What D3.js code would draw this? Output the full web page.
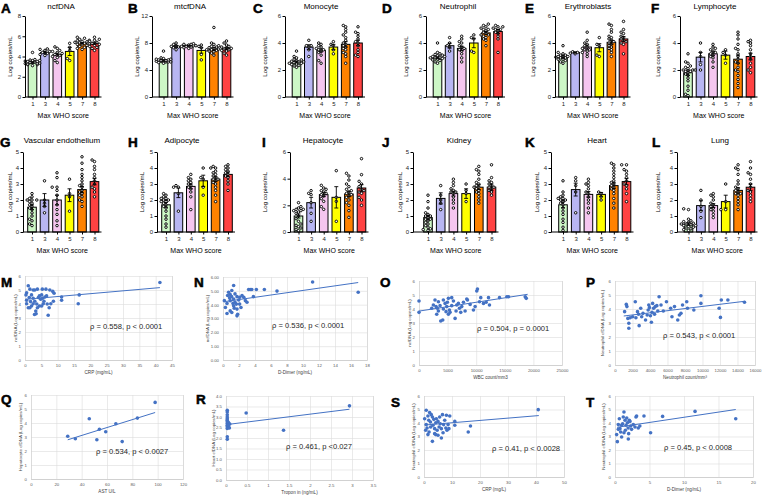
<!DOCTYPE html>
<html lang="en">
<head>
<meta charset="UTF-8">
<title>cfDNA by max WHO score</title>
<script src="https://d3js.org/d3.v7.min.js"></script>
<style>
  body { margin: 0; background: #fff; }
  svg text { font-family: "Liberation Sans", Arial, sans-serif; }
</style>
</head>
<body>
<svg width="762" height="497"></svg>
<script>
// ---- bar panels: max WHO score groups ----
const groups = ['1', '3', '4', '5', '7', '8'];
const groupColors = ['#cdf7c6', '#b8b6f2', '#f5c6ef', '#ffff00', '#ff8200', '#ff4242'];

const ncfMean = [3.4, 4.4, 4.2, 4.5, 5.3, 5.3];
const ncfSem = [0.07, 0.12, 0.13, 0.4, 0.07, 0.1];
const ncfDots = [
  [3.1,3.2,3.25,3.3,3.3,3.35,3.4,3.4,3.45,3.5,3.5,3.55,3.6,3.6,3.65,3.7,3.2,4.4],
  [4.1,4.3,4.4,4.5,4.6,4.7,4.75,4.2],
  [3.4,3.6,3.9,4.0,4.1,4.2,4.3,4.4,4.5,4.6,4.8,4.95],
  [3.6,3.8,4.6,5.3,4.9],
  [4.7,4.8,4.9,5.0,5.1,5.15,5.2,5.25,5.3,5.35,5.4,5.45,5.5,5.55,5.6,5.7,5.8,5.9],
  [4.6,4.8,4.9,5.0,5.1,5.2,5.3,5.4,5.5,5.6,5.7,5.9]
];

const mtMean = [5.4, 7.5, 7.6, 6.9, 7.1, 7.2];
const mtSem = [0.1, 0.15, 0.07, 0.4, 0.2, 0.15];
const mtDots = [
  [5.0,5.1,5.2,5.2,5.3,5.3,5.4,5.4,5.5,5.5,5.6,5.6,5.7,5.8,5.2,5.4,6.8],
  [7.0,7.3,7.5,7.6,7.8,8.0,7.4],
  [7.2,7.3,7.4,7.5,7.6,7.6,7.7,7.7,7.8,7.9,7.5,7.8],
  [5.5,6.3,7.3,7.5,7.7],
  [6.2,6.5,6.7,6.8,6.9,7.0,7.0,7.1,7.2,7.3,7.4,7.5,7.6,7.8,8.0,10.3],
  [6.2,6.5,6.8,6.9,7.0,7.1,7.2,7.3,7.4,7.5,7.7,8.0,8.3]
];

const monoMean = [2.6, 3.7, 3.45, 3.7, 3.9, 4.0];
const monoSem = [0.07, 0.17, 0.12, 0.2, 0.2, 0.2];
const monoDots = [
  [2.2,2.3,2.35,2.4,2.45,2.5,2.5,2.55,2.6,2.6,2.65,2.7,2.75,2.8,2.9,3.0,3.4],
  [3.0,3.5,3.7,3.8,3.8,4.2],
  [2.5,2.7,3.1,3.3,3.4,3.5,3.6,3.7,3.8,3.9,4.0,3.5],
  [3.2,3.5,3.9,4.1,3.8],
  [2.5,3.0,3.3,3.5,3.6,3.7,3.8,3.9,4.0,4.2,4.4,4.6,4.8,5.0,5.2,5.3,3.2],
  [3.0,3.1,3.3,3.5,3.8,4.0,4.1,4.3,4.5,4.7,4.8,5.2]
];

const neutMean = [2.9, 3.8, 3.6, 4.0, 4.75, 4.85];
const neutSem = [0.07, 0.18, 0.16, 0.35, 0.1, 0.15];
const neutDots = [
  [2.5,2.6,2.7,2.75,2.8,2.85,2.9,2.9,2.95,3.0,3.0,3.05,3.1,3.15,3.2,3.3,4.0],
  [3.4,3.7,3.8,4.0,4.4],
  [2.6,2.9,3.2,3.4,3.5,3.6,3.7,3.8,4.0,4.1,4.3,4.5],
  [3.3,3.4,4.3,4.6,4.4],
  [3.8,4.2,4.4,4.5,4.6,4.6,4.7,4.8,4.9,5.0,5.0,5.1,5.2,5.3,5.4,4.3],
  [3.3,4.3,4.5,4.7,4.8,4.9,5.0,5.0,5.1,5.2,5.3,5.2]
];

const eryMean = [2.95, 3.3, 3.7, 3.65, 4.05, 4.3];
const erySem = [0.07, 0.05, 0.15, 0.3, 0.15, 0.18];
const eryDots = [
  [2.5,2.6,2.7,2.8,2.8,2.9,2.9,3.0,3.0,3.0,3.1,3.1,3.2,3.3,3.8,2.95],
  [3.2,3.3,3.35,3.3,3.25],
  [3.0,3.2,3.4,3.5,3.6,3.7,3.8,3.9,4.0,4.2,4.8,3.5],
  [3.0,3.1,3.9,4.4,3.8],
  [3.0,3.3,3.5,3.7,3.8,3.9,4.0,4.1,4.2,4.3,4.4,4.5,4.8,5.0,5.3,5.4,3.6],
  [3.2,3.9,4.0,4.1,4.2,4.3,4.4,4.5,4.7,4.8,5.0,5.6]
];

const lymMean = [1.8, 2.95, 3.2, 3.1, 2.8, 3.0];
const lymSem = [0.2, 0.35, 0.15, 0.3, 0.3, 0.25];
const lymDots = [
  [0.1,0.2,0.5,0.8,1.2,1.4,1.6,1.7,1.8,1.9,2.0,2.0,2.1,2.2,2.3,2.5,2.6,3.2,2.0,1.9],
  [2.0,2.4,3.0,3.3,4.0],
  [2.2,2.6,2.9,3.0,3.1,3.2,3.3,3.4,3.5,3.6,3.7,3.9],
  [2.5,3.1,3.5,3.3],
  [0.7,1.0,1.3,1.6,1.9,2.0,2.2,2.5,2.8,3.0,3.2,3.5,3.6,3.9,4.3,4.6,4.8,2.6],
  [1.8,2.0,2.2,2.5,2.8,3.0,3.2,3.5,3.8,4.0,4.1,4.2]
];

const vascMean = [1.55, 2.0, 2.0, 2.3, 2.65, 3.15];
const vascSem = [0.15, 0.4, 0.3, 0.4, 0.2, 0.2];
const vascDots = [
  [0.4,0.5,0.7,0.8,1.0,1.2,1.4,1.5,1.6,1.7,1.8,1.9,2.0,2.0,2.1,2.2,2.4,2.0],
  [1.2,1.6,2.0,3.2,1.8],
  [0.4,0.7,1.1,1.4,1.7,2.0,2.3,2.6,2.8,2.8,3.4,3.7],
  [1.3,2.2,2.4,3.3],
  [1.6,1.9,2.0,2.2,2.3,2.4,2.5,2.6,2.8,2.9,3.0,3.2,3.4,3.6,3.9,4.3,4.7],
  [2.2,2.5,2.7,2.8,3.0,3.2,3.4,3.6,3.9,4.1,4.4,4.5]
];

const adiMean = [1.7, 2.45, 2.85, 3.2, 3.3, 3.6];
const adiSem = [0.15, 0.3, 0.15, 0.35, 0.15, 0.15];
const adiDots = [
  [0.3,0.5,0.8,1.0,1.3,1.5,1.6,1.7,1.8,1.9,2.0,2.0,2.1,2.1,2.2,2.3,2.4,1.9],
  [1.3,2.4,2.8,2.9,2.8],
  [1.4,2.2,2.5,2.7,2.8,2.9,3.0,3.1,3.2,3.4,3.6,3.3],
  [2.3,2.8,3.4,4.0,3.3],
  [1.9,2.3,2.6,2.8,3.0,3.1,3.2,3.3,3.4,3.5,3.6,3.7,3.8,4.0,4.0,4.1,3.3],
  [2.6,3.0,3.2,3.4,3.5,3.6,3.7,3.8,3.9,4.0,4.1,4.2]
];

const hepMean = [1.2, 2.2, 2.8, 2.6, 2.85, 3.3];
const hepSem = [0.15, 0.4, 0.15, 0.8, 0.2, 0.25];
const hepDots = [
  [0.1,0.2,0.3,0.4,0.5,0.6,0.8,1.0,1.2,1.4,1.5,1.6,1.7,1.7,1.8,1.9,2.2,1.6],
  [0.8,1.4,2.2,2.8,3.1,2.9],
  [1.7,1.9,2.3,2.5,2.7,2.8,2.9,3.0,3.1,3.2,3.3,3.5],
  [0.8,2.3,2.6,4.6],
  [1.1,1.6,2.0,2.2,2.4,2.6,2.7,2.8,2.9,3.0,3.1,3.2,3.4,3.6,3.9,4.2,4.4],
  [2.0,2.4,2.6,2.9,3.0,3.1,3.2,3.4,3.6,3.8,4.3,5.5]
];

const kidMean = [0.9, 2.1, 2.4, 2.4, 2.8, 2.8];
const kidSem = [0.15, 0.35, 0.15, 0.3, 0.15, 0.2];
const kidDots = [
  [0.1,0.15,0.2,0.3,0.4,0.5,0.6,0.7,0.8,0.9,1.0,1.0,1.1,1.2,1.5,1.9,2.3,0.8],
  [1.4,1.8,2.3,2.9,2.0],
  [1.5,1.8,2.0,2.2,2.4,2.5,2.6,2.7,2.9,3.1,3.3,2.5],
  [1.9,2.4,2.6,3.0],
  [1.8,2.0,2.2,2.4,2.5,2.6,2.7,2.8,2.9,3.0,3.1,3.3,3.6,3.8,3.9,4.1,2.8],
  [2.3,2.5,2.6,2.7,2.8,2.8,2.9,3.0,3.1,3.2,3.4,4.2]
];

const heartMean = [1.7, 2.65, 2.35, 2.35, 2.9, 3.15];
const heartSem = [0.18, 0.4, 0.18, 0.12, 0.18, 0.2];
const heartDots = [
  [0.1,0.3,0.6,0.8,1.1,1.3,1.5,1.7,1.8,1.9,2.0,2.1,2.1,2.2,2.3,2.5,3.2,2.0],
  [1.2,2.5,2.9,3.2,3.4],
  [1.2,1.5,1.8,2.0,2.2,2.4,2.5,2.7,2.9,3.0,3.1,3.3],
  [2.0,2.2,2.5,2.4],
  [1.5,1.8,2.1,2.4,2.6,2.8,2.9,3.0,3.1,3.2,3.4,3.6,3.8,4.0,4.2,4.3,2.7],
  [1.9,2.4,2.7,2.9,3.0,3.2,3.4,3.6,3.8,3.9,4.2,4.2]
];

const lungMean = [0.5, 1.65, 1.65, 1.9, 2.6, 2.8];
const lungSem = [0.08, 0.3, 0.12, 0.4, 0.17, 0.2];
const lungDots = [
  [0.1,0.15,0.2,0.25,0.3,0.35,0.4,0.45,0.5,0.5,0.55,0.6,0.65,0.7,0.8,1.4,1.45,0.4],
  [0.9,1.6,2.0,2.6,1.3],
  [0.9,1.1,1.3,1.4,1.5,1.6,1.7,1.8,2.0,2.2,2.3,2.4],
  [1.4,1.9,3.0,1.4],
  [1.4,1.7,1.9,2.1,2.3,2.4,2.5,2.6,2.7,2.8,3.0,3.2,3.6,3.9,4.0,4.2,2.4],
  [1.9,2.1,2.3,2.5,2.6,2.8,3.0,3.3,3.6,3.7,4.0,4.4]
];

// ---- correlation panels: [x, y] pairs and fitted line ends ----
const crpNcf = [[1.0,5.3],[0.5,4.8],[0.3,4.65],[1.5,5.06],[2.5,5.0],[3,5.0],[3.8,5.06],[5.3,5.06],[6.4,5.06],[7.6,5.0],[8.5,4.9],[8.9,4.77],[0.5,4.27],[1.0,3.73],[1.5,3.73],[2,3.86],[2.5,4.02],[3,4.2],[3.3,3.5],[3.4,3.3],[2.9,3.25],[3.6,4.0],[4.1,4.46],[4.4,4.58],[4.8,4.34],[5.1,4.65],[5.4,4.41],[5.8,4.2],[6.1,4.5],[6.6,4.58],[6.8,4.0],[7.1,3.2],[7.4,3.73],[7.9,4.02],[8.7,4.2],[11.2,4.5],[11.2,4.27],[16.3,4.02],[16.6,4.65],[41.3,5.54],[0.5,4.02],[1.3,4.46],[2,4.65],[2.5,4.41],[1.7,4.17],[4.4,3.86],[3.8,3.73],[5.1,3.86],[5.6,4.02]];
const crpNcfFit = [[0, 4.33], [41.3, 5.17]];

const ddNcf = [[1.33,5.39],[0.7,4.9],[0.9,4.73],[1.1,5.02],[1.5,4.78],[1.75,4.58],[1.33,4.41],[0.9,4.29],[0.5,4.09],[0.3,3.8],[0.5,3.36],[0.9,3.55],[1.1,3.43],[1.33,3.92],[1.5,4.17],[1.67,4.04],[1.75,3.68],[1.75,3.19],[1.83,3.31],[1.96,4.34],[2.08,4.53],[2.38,4.66],[2.6,4.53],[2.8,4.29],[3,4.17],[3.2,5.1],[3.4,5.1],[3.6,5.1],[4.17,5.1],[3.8,4.58],[5.17,5.1],[6.75,4.98],[11.2,5.64],[16.9,4.9],[0.83,4.49],[1.25,4.09],[1.4,3.75],[2.08,4.04],[2.25,3.8],[0.58,4.66],[1.08,4.58],[0.17,4.29]];
const ddNcfFit = [[0.2, 4.22], [16.9, 5.6]];

const wbcNcf = [[0,4.57],[0,3.76],[2220,4.05],[2510,4.29],[2800,4.64],[2980,4.17],[3100,3.62],[3210,4.05],[3390,3.86],[3680,4.24],[3800,3.14],[4150,3.21],[4260,4.0],[4560,4.4],[4730,3.81],[4850,4.17],[4960,4.48],[5140,3.62],[5320,3.93],[5430,3.76],[5720,4.24],[6020,4.57],[6310,3.33],[6480,3.86],[6600,4.29],[6890,4.4],[7070,4.05],[7300,3.76],[7480,4.17],[7770,4.48],[8060,3.86],[8350,4.71],[8470,4.64],[8940,4.33],[9520,3.93],[9810,4.17],[10100,5.29],[10220,5.43],[10570,4.52],[10800,4.81],[11270,4.4],[11740,4.48],[12150,4.81],[12320,4.29],[14080,4.81],[15360,4.88],[15650,4.88],[18570,4.88],[18750,4.76],[4260,4.64],[5140,4.76],[5720,4.81],[3390,4.52]];
const wbcNcfFit = [[0, 3.85], [19000, 5.05]];

const countNeut = [[1100,3.81],[1290,4.33],[1360,4.17],[1470,3.33],[1580,2.98],[1580,2.62],[1730,3.38],[2020,3.45],[2320,4.52],[2390,3.38],[2570,3.81],[2690,3.62],[2760,2.81],[2940,4.05],[3050,3.45],[3200,3.69],[3490,3.21],[3680,3.57],[3790,3.93],[3860,4.29],[3940,4.1],[4050,3.52],[4160,3.05],[4230,3.76],[4300,4.4],[4410,4.05],[4520,3.62],[4600,4.17],[4780,4.24],[4890,3.86],[5040,4.88],[5260,4.29],[5520,3.86],[5880,4.52],[6360,4.05],[6510,3.45],[6800,4.17],[7170,3.21],[7360,3.57],[7540,3.69],[7720,4.29],[8200,4.52],[8280,4.05],[9010,3.93],[9820,4.95],[9820,4.4],[11900,4.05],[12050,3.4],[12150,4.64],[12900,4.64],[14800,4.48]];
const countNeutFit = [[1000, 3.5], [14800, 4.55]];

const astHep = [[29,3.05],[35,2.87],[46,4.3],[52,2.8],[54,3.55],[59,3.38],[67,3.95],[72,2.67],[84,4.35],[98,5.47]];
const astHepFit = [[29, 2.8], [98, 4.75]];

const tropHeart = [[0.03,1.94],[0.03,2.06],[0.03,2.45],[0.03,2.53],[0.03,2.61],[0.03,2.69],[0.03,2.77],[0.03,2.85],[0.03,2.92],[0.03,3.0],[0.03,3.11],[0.03,3.24],[0.03,3.32],[0.05,2.64],[0.06,2.74],[0.06,2.58],[0.08,2.48],[0.09,2.67],[0.48,3.19],[1.37,2.37],[2.94,3.53]];
const tropHeartFit = [[0.02, 2.64], [2.94, 3.37]];

const crpNeut = [[0.8,4.94],[1.4,4.52],[2,4.77],[0.24,4.32],[0.6,3.46],[1.1,3.63],[1.4,3.14],[1.8,3.33],[2.3,4.07],[2.6,4.62],[3,4.44],[3.2,3.83],[3.5,4.27],[3,2.64],[3.8,3.58],[3.8,3.21],[4.2,4.02],[4.4,4.32],[4.7,3.46],[5,4.12],[5.4,3.7],[5.6,4.44],[5.8,3.95],[6.2,3.58],[6.6,4.62],[6.8,3.28],[7,3.88],[7.4,4.2],[7.8,3.63],[6.2,2.89],[8,4.57],[8.2,3.46],[8.6,3.88],[8.9,3.58],[11,4.12],[11,3.83],[15.8,3.33],[16.6,3.78],[40.8,4.99],[0.8,3.88],[1.7,4.2],[2.4,3.7],[4.2,3.14],[5,3.09],[9.2,4.52]];
const crpNeutFit = [[0.2, 3.85], [41, 4.55]];

const ddNeut = [[0.24,3.14],[0.34,2.62],[0.48,3.88],[0.63,4.32],[0.72,3.58],[0.82,3.33],[0.96,2.96],[1.1,3.95],[1.2,4.44],[1.3,4.81],[1.45,4.2],[1.5,3.46],[1.6,3.83],[1.7,4.37],[1.8,4.02],[1.9,3.63],[1.93,2.82],[1.98,3.21],[2.07,4.2],[2.27,3.78],[2.4,3.53],[2.65,3.88],[2.9,3.7],[3.04,4.44],[3.13,4.52],[3.37,3.63],[3.6,3.78],[4.2,4.52],[5.16,3.28],[6.9,4.49],[11.6,4.86],[17.5,4.32],[0.96,3.83],[0.48,3.53],[1.3,3.28],[2.17,4.12]];
const ddNeutFit = [[0.3, 3.68], [17.5, 5.0]];

// ---- layout ----
const svg = d3.select('svg');

const rows = [
  {top: 16, bottom: 97, title: 8.5, letter: 12.5, tick: 108.5, xlab: 117.5},
  {top: 152, bottom: 232, title: 143, letter: 146.5, tick: 242, xlab: 252.5}
];

const barPanels = [
  {key: 'A', title: 'ncfDNA', mean: ncfMean, sem: ncfSem, dots: ncfDots, ymax: 8, step: 2, row: 0, ax: 25, b0: 32.5, b1: 94.5, lx: 1, tx: 61, ytx: 10},
  {key: 'B', title: 'mtcfDNA', mean: mtMean, sem: mtSem, dots: mtDots, ymax: 12, step: 4, row: 0, ax: 152, b0: 163.5, b1: 226.5, lx: 128, tx: 190, ytx: 137},
  {key: 'C', title: 'Monocyte', mean: monoMean, sem: monoSem, dots: monoDots, ymax: 6, step: 2, row: 0, ax: 285, b0: 296.5, b1: 358, lx: 253, tx: 321, ytx: 265},
  {key: 'D', title: 'Neutrophil', mean: neutMean, sem: neutSem, dots: neutDots, ymax: 6, step: 2, row: 0, ax: 426, b0: 437.5, b1: 498, lx: 382, tx: 458, ytx: 406},
  {key: 'E', title: 'Erythroblasts', mean: eryMean, sem: erySem, dots: eryDots, ymax: 6, step: 2, row: 0, ax: 555, b0: 563, b1: 623.5, lx: 525, tx: 588, ytx: 533},
  {key: 'F', title: 'Lymphocyte', mean: lymMean, sem: lymSem, dots: lymDots, ymax: 6, step: 2, row: 0, ax: 680, b0: 688, b1: 750.5, lx: 651, tx: 715, ytx: 658},
  {key: 'G', title: 'Vascular endothelium', mean: vascMean, sem: vascSem, dots: vascDots, ymax: 5, step: 1, row: 1, ax: 23, b0: 32, b1: 94.5, lx: 0, tx: 62, ytx: 10},
  {key: 'H', title: 'Adipocyte', mean: adiMean, sem: adiSem, dots: adiDots, ymax: 5, step: 1, row: 1, ax: 157, b0: 166, b1: 228, lx: 128, tx: 182, ytx: 142},
  {key: 'I', title: 'Hepatocyte', mean: hepMean, sem: hepSem, dots: hepDots, ymax: 6, step: 2, row: 1, ax: 290, b0: 298.5, b1: 361.5, lx: 262, tx: 323, ytx: 265},
  {key: 'J', title: 'Kidney', mean: kidMean, sem: kidSem, dots: kidDots, ymax: 5, step: 1, row: 1, ax: 413, b0: 428, b1: 491.5, lx: 382, tx: 459, ytx: 400},
  {key: 'K', title: 'Heart', mean: heartMean, sem: heartSem, dots: heartDots, ymax: 5, step: 1, row: 1, ax: 551, b0: 563, b1: 626.5, lx: 525, tx: 597, ytx: 537},
  {key: 'L', title: 'Lung', mean: lungMean, sem: lungSem, dots: lungDots, ymax: 5, step: 1, row: 1, ax: 677, b0: 688.5, b1: 750.5, lx: 652, tx: 720, ytx: 658}
];

const scatterPanels = [
  {key: 'M', pts: crpNcf, fit: crpNcfFit, xmax: 45, xstep: 5, ymax: 6, ystep: 1, yfmt: d3.format('d'),
   x0: 25, x1: 172, yt: 276, yb: 360, lx: 1, ly: 287, xt: 'CRP (mg/mL)', yt2: 'ncfDNA (Log copies/mL)', ytx: 15,
   note: 'ρ = 0.558, p < 0.0001', nx: 90, ny: 329},
  {key: 'N', pts: ddNcf, fit: ddNcfFit, xmax: 18, xstep: 2, ymax: 6, ystep: 1, yfmt: d3.format('.2f'),
   x0: 223, x1: 367, yt: 277, yb: 360, lx: 194, ly: 287, xt: 'D-Dimer (ng/mL)', yt2: 'ncfDNA (Log copies/mL)', ytx: 207,
   note: 'ρ = 0.536, p < 0.0001', nx: 272, ny: 328},
  {key: 'O', pts: wbcNcf, fit: wbcNcfFit, xmax: 25000, xstep: 5000, ymax: 6, ystep: 1, yfmt: d3.format('d'),
   x0: 419, x1: 562, yt: 281, yb: 365, lx: 380, ly: 287, xt: 'WBC count/mm3', yt2: 'ncfDNA (Log copies/mL)', ytx: 409,
   note: 'ρ = 0.504, p = 0.0001', nx: 477, ny: 331},
  {key: 'P', pts: countNeut, fit: countNeutFit, xmax: 16000, xstep: 2000, ymax: 6, ystep: 1, yfmt: d3.format('d'),
   x0: 615, x1: 755, yt: 281, yb: 365, lx: 586, ly: 287, xt: 'Neutrophil count/mm³', yt2: 'Neutrophil cfDNA (Log copies/mL)', ytx: 602,
   note: 'ρ = 0.543, p < 0.0001', nx: 663, ny: 338},
  {key: 'Q', pts: astHep, fit: astHepFit, xmax: 120, xstep: 20, ymax: 6, ystep: 1, yfmt: d3.format('d'),
   x0: 31, x1: 183, yt: 395, yb: 479, lx: 1, ly: 404, xt: 'AST U/L', yt2: 'Hepatocyte cfDNA (Log copies/mL)', ytx: 20,
   note: 'ρ = 0.534, p < 0.0027', nx: 96, ny: 454},
  {key: 'R', pts: tropHeart, fit: tropHeartFit, xmax: 3.5, xstep: 0.5, ymax: 4, ystep: 0.5, yfmt: d3.format('.1f'),
   x0: 226, x1: 373, yt: 396, yb: 480, lx: 196, ly: 404, xt: 'Tropon in (ng/mL)', yt2: 'Heart cfDNA (Log copies/mL)', ytx: 213,
   note: 'ρ = 0.461, p <0.027', nx: 286, ny: 449},
  {key: 'S', pts: crpNeut, fit: crpNeutFit, xmax: 50, xstep: 10, ymax: 6, ystep: 1, yfmt: d3.format('d'),
   x0: 424, x1: 564, yt: 396, yb: 477, lx: 391, ly: 407, xt: 'CRP (mg/L)', yt2: 'Neutrophil cfDNA (Log copies/mL)', ytx: 413,
   note: 'ρ = 0.41, p < 0.0028', nx: 492, ny: 451},
  {key: 'T', pts: ddNeut, fit: ddNeutFit, xmax: 20, xstep: 5, ymax: 6, ystep: 1, yfmt: d3.format('d'),
   x0: 615, x1: 753, yt: 396, yb: 477, lx: 586, ly: 407, xt: 'D-Dimer (ng/mL)', yt2: 'Neutrophil cfDNA (Log copies/mL)', ytx: 603,
   note: 'ρ = 0.45, p < 0.0008', nx: 664, ny: 450}
];

// simple beeswarm so the dots of one group don't sit on top of each other
function swarm(vals, y, cx) {
  const placed = [];
  const offs = [0, -2.4, 2.4, -4.8, 4.8, -7.2, 7.2];
  vals.slice().sort((a, b) => a - b).forEach((v, i) => {
    const py = y(v);
    let ox = offs[i % offs.length];
    for (const o of offs) {
      if (placed.every(p => Math.hypot(p.x - (cx + o), p.y - py) >= 2.7)) { ox = o; break; }
    }
    placed.push({x: cx + ox, y: py});
  });
  return placed;
}

function letter(x, y, t) {
  svg.append('text').attr('x', x).attr('y', y)
    .attr('font-size', 13.5).attr('font-weight', 'bold').attr('fill', '#000')
    .attr('stroke', '#000').attr('stroke-width', 0.5)
    .text(t);
}

// ---- bar charts ----
barPanels.forEach(p => {
  const r = rows[p.row];
  const g = svg.append('g');
  const y = d3.scaleLinear().domain([0, p.ymax]).range([r.bottom, r.top]);
  const x = d3.scalePoint().domain(groups).range([p.b0, p.b1]);
  const bw = 8.6;

  letter(p.lx, r.letter, p.key);
  g.append('text').attr('x', p.tx).attr('y', r.title).attr('text-anchor', 'middle')
    .attr('font-size', 8).text(p.title);

  g.selectAll('rect.bar').data(groups).join('rect')
    .attr('x', d => x(d) - bw / 2)
    .attr('y', (d, i) => y(p.mean[i]))
    .attr('width', bw)
    .attr('height', (d, i) => r.bottom - y(p.mean[i]))
    .attr('fill', (d, i) => groupColors[i])
    .attr('stroke', '#000').attr('stroke-width', 1);

  groups.forEach((gr, i) => {
    const pts = swarm(p.dots[i], y, x(gr));
    g.append('g').selectAll('circle').data(pts).join('circle')
      .attr('cx', d => d.x).attr('cy', d => d.y).attr('r', 1.25)
      .attr('fill', '#fff').attr('stroke', '#000').attr('stroke-width', 0.95);

    const m = p.mean[i], s = p.sem[i];
    g.append('line').attr('x1', x(gr)).attr('x2', x(gr))
      .attr('y1', y(m - s)).attr('y2', y(m + s)).attr('stroke', '#000').attr('stroke-width', 0.9);
    [m - s, m + s].forEach(v => {
      g.append('line').attr('x1', x(gr) - 2).attr('x2', x(gr) + 2)
        .attr('y1', y(v)).attr('y2', y(v)).attr('stroke', '#000').attr('stroke-width', 0.9);
    });
  });

  const yAxis = g.append('g').attr('transform', `translate(${p.ax},0)`)
    .call(d3.axisLeft(y).tickValues(d3.range(0, p.ymax + 0.001, p.step))
      .tickSize(2.5).tickSizeOuter(0).tickPadding(1.5).tickFormat(d3.format('d')));
  yAxis.selectAll('text').attr('font-size', 6).attr('fill', '#222');

  const xAxis = g.append('g').attr('transform', `translate(0,${r.bottom})`)
    .call(d3.axisBottom(x).tickSize(2.5).tickSizeOuter(0).tickPadding(2));
  xAxis.select('.domain').remove();
  xAxis.selectAll('text').attr('font-size', 6).attr('fill', '#222');
  g.append('line').attr('x1', p.ax).attr('x2', p.b1 + 7)
    .attr('y1', r.bottom).attr('y2', r.bottom).attr('stroke', '#000');

  g.append('text').attr('x', (p.ax + p.b1 + 7) / 2).attr('y', r.xlab)
    .attr('text-anchor', 'middle').attr('font-size', 7).text('Max WHO score');
  g.append('text').attr('transform', `translate(${p.ytx},${(r.top + r.bottom) / 2}) rotate(-90)`)
    .attr('text-anchor', 'middle').attr('dy', '0.35em').attr('font-size', 6.2).text('Log copies/mL');
});

// ---- correlation scatters ----
scatterPanels.forEach(p => {
  const g = svg.append('g');
  const x = d3.scaleLinear().domain([0, p.xmax]).range([p.x0, p.x1]);
  const y = d3.scaleLinear().domain([0, p.ymax]).range([p.yb, p.yt]);
  const xt = d3.range(0, p.xmax + 1e-9, p.xstep);
  const yt = d3.range(0, p.ymax + 1e-9, p.ystep);

  letter(p.lx, p.ly, p.key);

  g.append('g').attr('transform', `translate(${p.x0},0)`)
    .call(d3.axisLeft(y).tickValues(yt).tickSize(-(p.x1 - p.x0)).tickFormat(p.yfmt).tickPadding(4))
    .call(a => a.select('.domain').remove())
    .call(a => a.selectAll('line').attr('stroke', '#dcdcdc').attr('stroke-width', 0.6))
    .call(a => a.selectAll('text').attr('font-size', 4.3).attr('fill', '#595959'));

  g.append('g').attr('transform', `translate(0,${p.yb})`)
    .call(d3.axisBottom(x).tickValues(xt).tickSize(-(p.yb - p.yt)).tickFormat(d3.format('d')).tickPadding(4))
    .call(a => a.select('.domain').attr('stroke', '#bfbfbf').attr('stroke-width', 0.6))
    .call(a => a.selectAll('line').attr('stroke', '#dcdcdc').attr('stroke-width', 0.6))
    .call(a => a.selectAll('text').attr('font-size', 4.3).attr('fill', '#595959')
      .text(d => p.xstep < 1 ? d3.format('.1f')(d).replace(/\.0$/, '') : d3.format('d')(d)));

  g.append('g').selectAll('circle').data(p.pts).join('circle')
    .attr('cx', d => x(d[0])).attr('cy', d => y(d[1])).attr('r', 1.8)
    .attr('fill', '#4472c4');

  g.append('line')
    .attr('x1', x(p.fit[0][0])).attr('y1', y(p.fit[0][1]))
    .attr('x2', x(p.fit[1][0])).attr('y2', y(p.fit[1][1]))
    .attr('stroke', '#4472c4').attr('stroke-width', 1);

  g.append('text').attr('x', (p.x0 + p.x1) / 2).attr('y', p.yb + 14)
    .attr('text-anchor', 'middle').attr('font-size', 4.6).attr('fill', '#404040').text(p.xt);
  g.append('text').attr('transform', `translate(${p.ytx},${(p.yt + p.yb) / 2}) rotate(-90)`)
    .attr('text-anchor', 'middle').attr('dy', '0.35em').attr('font-size', 4.4).attr('fill', '#404040').text(p.yt2);

  g.append('text').attr('x', p.nx).attr('y', p.ny).attr('font-size', 7.6).attr('fill', '#262626').text(p.note);
});
</script>
</body>
</html>
